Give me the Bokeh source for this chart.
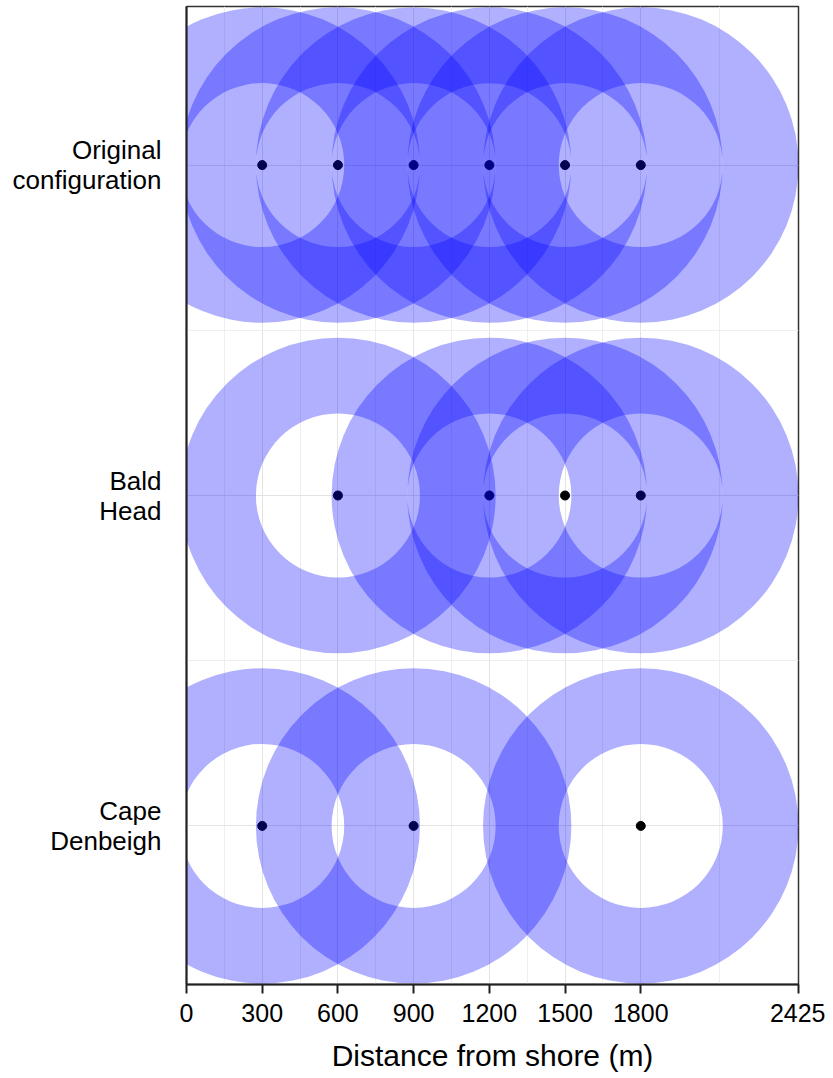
from bokeh.plotting import figure
from bokeh.models import Range1d, FixedTicker
from bokeh.embed import file_html
from bokeh.resources import INLINE

# Data
config_names = ["Cape\nDenbeigh", "Bald\nHead", "Original\nconfiguration"]
config_levels = [1, 2, 3]
original_x = [300, 600, 900, 1200, 1500, 1800]
bald_head_x = [600, 1200, 1500, 1800]
cape_denbeigh_x = [300, 900, 1800]
inner_radius_m = 325
outer_radius_m = 625
x_ticks = [0, 300, 600, 900, 1200, 1500, 1800, 2425]
x_minor = [150, 450, 750, 1050, 1350, 1650, 2112.5]

xs = original_x + bald_head_x + cape_denbeigh_x
ys = [3] * len(original_x) + [2] * len(bald_head_x) + [1] * len(cape_denbeigh_x)

p = figure(frame_width=612, frame_height=978, output_backend="svg", toolbar_location=None,
           x_range=Range1d(0, 2425), y_range=Range1d(0.52, 3.48),
           min_border_left=186, min_border_right=27, min_border_top=6,
           min_border_bottom=0)

p.background_fill_color = "white"
p.outline_line_color = "#333333"
p.outline_line_width = 1.5

# Points first (rings drawn above them)
p.scatter(xs, ys, size=9, fill_color="black", line_color="black")
p.annulus(x=xs, y=ys, inner_radius=inner_radius_m, outer_radius=outer_radius_m,
          fill_color="#0000FF", fill_alpha=0.31, line_color=None)

# X axis
p.xaxis.ticker = FixedTicker(ticks=x_ticks, minor_ticks=x_minor)
p.xaxis.axis_label = "Distance from shore (m)"
p.xaxis.axis_label_text_font = "Liberation Sans"
p.xaxis.axis_label_text_font_style = "normal"
p.xaxis.axis_label_text_font_size = "30px"
p.xaxis.axis_label_text_color = "black"
p.xaxis.axis_label_standoff = 14
p.xaxis.major_label_text_font = "Liberation Sans"
p.xaxis.major_label_text_font_size = "25px"
p.xaxis.major_label_text_color = "black"
p.xaxis.major_label_standoff = 10
p.xaxis.major_tick_out = 9
p.xaxis.major_tick_in = 0
p.xaxis.minor_tick_out = 0
p.xaxis.minor_tick_in = 0
p.xaxis.axis_line_color = "#222222"
p.xaxis.axis_line_width = 2
p.xaxis.major_tick_line_color = "#222222"
p.xaxis.major_tick_line_width = 2

# Y axis
p.yaxis.ticker = FixedTicker(ticks=config_levels, minor_ticks=[1.5, 2.5])
p.yaxis.major_label_overrides = {lvl: name for lvl, name in zip(config_levels, config_names)}
p.yaxis.major_label_text_font = "Liberation Sans"
p.yaxis.major_label_text_font_size = "26px"
p.yaxis.major_label_text_color = "black"
p.yaxis.major_label_text_line_height = 1.0
p.yaxis.major_label_standoff = 25
p.yaxis.major_tick_out = 0
p.yaxis.major_tick_in = 0
p.yaxis.minor_tick_out = 0
p.yaxis.minor_tick_in = 0
p.yaxis.axis_line_color = "#222222"
p.yaxis.axis_line_width = 2

# Grid
p.xgrid.grid_line_color = "#E3E3E3"
p.ygrid.grid_line_color = "#E3E3E3"
p.xgrid.minor_grid_line_color = "#EEEEEE"
p.ygrid.minor_grid_line_color = "#EEEEEE"

open("out.html", "w").write(file_html(p, INLINE))
